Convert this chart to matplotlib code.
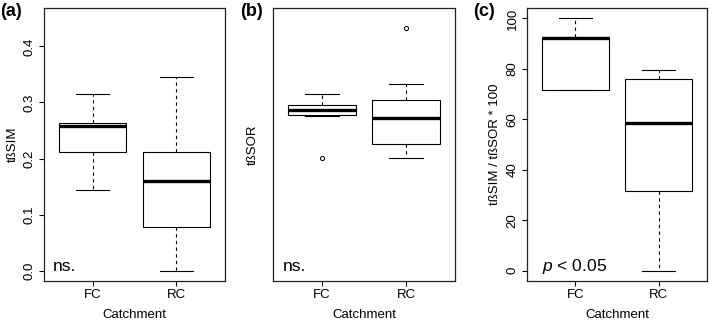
import matplotlib
matplotlib.use('agg')
import matplotlib.pyplot as plt

plt.rcParams['font.family'] = ['Liberation Sans', 'DejaVu Sans']
plt.rcParams['mathtext.fontset'] = 'custom'
plt.rcParams['mathtext.rm'] = 'Liberation Sans'
plt.rcParams['mathtext.it'] = 'Liberation Sans:italic'

# catchments
groups = ['FC', 'RC']

# box stats: [lower whisker, Q1, median, Q3, upper whisker]
sim_stats = [[0.143, 0.211, 0.258, 0.264, 0.315],
             [0.0, 0.077, 0.160, 0.212, 0.345]]
sim_fliers = [[], []]

# panel (b) has no y scale, values kept on the same scale as (a)
sor_stats = [[0.276, 0.278, 0.286, 0.295, 0.315],
             [0.201, 0.226, 0.273, 0.305, 0.333]]
sor_fliers = [[0.201], [0.433]]

ratio_stats = [[71.6, 71.6, 92.3, 92.6, 100.0],
               [0.0, 31.7, 58.6, 76.1, 79.6]]
ratio_fliers = [[], []]

sim_ticks = [0.0, 0.1, 0.2, 0.3, 0.4]
ratio_ticks = [0, 20, 40, 60, 80, 100]


def make_stats(stats, fliers):
    out = []
    for s, f in zip(stats, fliers):
        out.append(dict(whislo=s[0], q1=s[1], med=s[2], q3=s[3], whishi=s[4], fliers=f))
    return out


def draw_panel(ax, stats, fliers, ylim):
    ax.bxp(make_stats(stats, fliers), positions=[1, 2], widths=0.8,
           patch_artist=True,
           boxprops=dict(facecolor='white', edgecolor='black', linewidth=0.8),
           medianprops=dict(color='black', linewidth=2.4, solid_capstyle='butt'),
           whiskerprops=dict(color='black', linewidth=0.8, linestyle=(0, (3, 3))),
           capprops=dict(color='black', linewidth=0.8),
           flierprops=dict(marker='o', markersize=3, markerfacecolor='none',
                           markeredgecolor='black', markeredgewidth=0.7))
    ax.set_xlim(0.42, 2.58)
    ax.set_ylim(ylim)
    ax.set_xticks([1, 2])
    ax.set_xticklabels(groups)
    ax.tick_params(axis='both', direction='out', length=3.6, width=0.8,
                   labelsize=9.5, pad=2.5)
    ax.set_xlabel('Catchment', fontsize=9.5, labelpad=5.5)
    for sp in ax.spines.values():
        sp.set_linewidth(0.9)
        sp.set_color('#222222')


fig = plt.figure(figsize=(7.09, 3.24), dpi=100)
bottom = 0.1336
height = 0.8407
ax1 = fig.add_axes([0.0621, bottom, 0.2553, height])
ax2 = fig.add_axes([0.3850, bottom, 0.2567, height])
ax3 = fig.add_axes([0.7433, bottom, 0.2539, height])

# (a)
draw_panel(ax1, sim_stats, sim_fliers, (-0.018, 0.468))
ax1.set_yticks(sim_ticks)
ax1.set_yticklabels(['%.1f' % t for t in sim_ticks], rotation=90, va='center')
ax1.set_ylabel('tßSIM', fontsize=9.5)
ax1.yaxis.set_label_coords(-0.14, 0.5)
ax1.text(0.05, 0.054, 'ns.', transform=ax1.transAxes, fontsize=12.5,
         ha='left', va='center')

# (b)
draw_panel(ax2, sor_stats, sor_fliers, (-0.018, 0.468))
ax2.set_yticks([])
ax2.set_ylabel('tßSOR', fontsize=9.5)
ax2.yaxis.set_label_coords(-0.077, 0.5)
ax2.text(0.055, 0.054, 'ns.', transform=ax2.transAxes, fontsize=12.5,
         ha='left', va='center')

# (c)
draw_panel(ax3, ratio_stats, ratio_fliers, (-4, 104))
ax3.set_yticks(ratio_ticks)
ax3.set_yticklabels([str(t) for t in ratio_ticks], rotation=90, va='center')
ax3.set_ylabel('tßSIM / tßSOR * 100', fontsize=9.5)
ax3.yaxis.set_label_coords(-0.145, 0.5)
ax3.text(0.083, 0.054, '$p$ < 0.05', transform=ax3.transAxes, fontsize=12.5,
         ha='left', va='center')

fig.text(0.0, 0.963, '(a)', fontsize=13, fontweight='bold', va='center', ha='left')
fig.text(0.3385, 0.963, '(b)', fontsize=13, fontweight='bold', va='center', ha='left')
fig.text(0.667, 0.963, '(c)', fontsize=13, fontweight='bold', va='center', ha='left')

fig.savefig('out.png', dpi=100)
plt.close(fig)
